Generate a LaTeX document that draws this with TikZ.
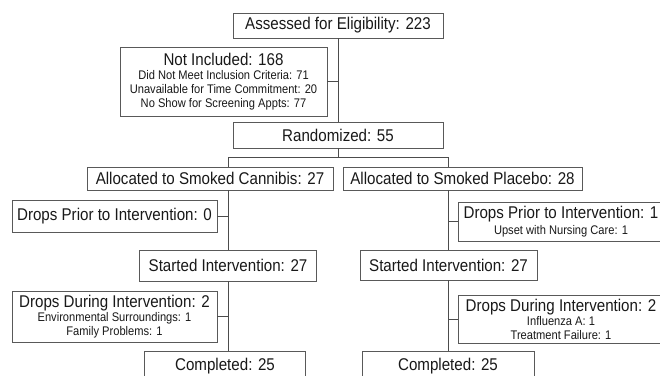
\documentclass[tikz,border=0pt]{standalone}
\usepackage{fontspec}
\setmainfont[FakeStretch=0.89]{Liberation Sans}
\newcommand\bigf{\fontsize{17}{19}\selectfont}
\newcommand\smallf{\fontsize{12.5}{14}\selectfont}
\begin{document}
\begin{tikzpicture}[x=1pt,y=-1pt,
  box/.style={draw=black!65, line width=0.75pt, inner sep=0pt, align=center, text=black!90, font=\bigf},
  multi/.style={box, font=\smallf},
  link/.style={draw=black!70, line width=0.75pt}]
\useasboundingbox (0,0) rectangle (660,375);
\clip (0,0) rectangle (660,375);
\fill[white] (0,0) rectangle (660,375);
% top part
\node[box, minimum width=210, minimum height=25] (assess) at (338,25.5) {Assessed for Eligibility: 223};
\node[multi, minimum width=207, minimum height=69, text depth=2pt] (notinc) at (223.5,81.5)
  {{\bigf Not Included: 168}\\Did Not Meet Inclusion Criteria: 71\\Unavailable for Time Commitment: 20\\No Show for Screening Appts: 77};
\node[box, minimum width=210, minimum height=26] (rand) at (338,135) {Randomized: 55};
\node[box, minimum width=246, minimum height=23] (allocC) at (210,178.5) {Allocated to Smoked Cannibis: 27};
\node[box, minimum width=239, minimum height=23] (allocP) at (462.5,178.5) {Allocated to Smoked Placebo: 28};
% left arm
\node[box, minimum width=205, minimum height=32] (dpL) at (114.5,216) {Drops Prior to Intervention: 0};
\node[box, minimum width=177, minimum height=31] (siL) at (228,265.5) {Started Intervention: 27};
\node[multi, minimum width=205, minimum height=51] (ddL) at (114.5,316.5)
  {{\bigf Drops During Intervention: 2}\\Environmental Surroundings: 1\\Family Problems: 1};
\node[box, minimum width=161, minimum height=30] (compL) at (225,366) {Completed: 25};
% right arm
\node[multi, minimum width=206, minimum height=39] (dpR) at (561,221.5)
  {{\bigf Drops Prior to Intervention: 1}\\[2pt]Upset with Nursing Care: 1};
\node[box, minimum width=177, minimum height=30] (siR) at (448.5,265) {Started Intervention: 27};
\node[multi, minimum width=206, minimum height=48] (ddR) at (561,319)
  {{\bigf Drops During Intervention: 2}\\Influenza A: 1\\Treatment Failure: 1};
\node[box, minimum width=172, minimum height=30] (compR) at (448,366) {Completed: 25};
% connectors
\coordinate (split) at (338,157);
\coordinate (sL) at (228,157);
\coordinate (sR) at (448,157);
\draw[link] (assess.south) -- (rand.north);
\draw[link] (notinc.east) -- (notinc.east -| assess.south);
\draw[link] (rand.south) -- (split);
\draw[link] (sL) -- (sR);
\draw[link] (sL) -- (sL |- allocC.north);
\draw[link] (sR) -- (sR |- allocP.north);
\draw[link] (allocC.south -| siL.north) -- (siL.north);
\draw[link] (siL.south) -- (siL.south |- compL.north);
\draw[link] (dpL.east) -- (dpL.east -| siL.north);
\draw[link] (ddL.east) -- (ddL.east -| siL.north);
\draw[link] (allocP.south -| siR.north) -- (siR.north);
\draw[link] (siR.south) -- (siR.south |- compR.north);
\draw[link] (dpR.west) -- (dpR.west -| siR.north);
\draw[link] (ddR.west) -- (ddR.west -| siR.north);
\end{tikzpicture}
\end{document}
